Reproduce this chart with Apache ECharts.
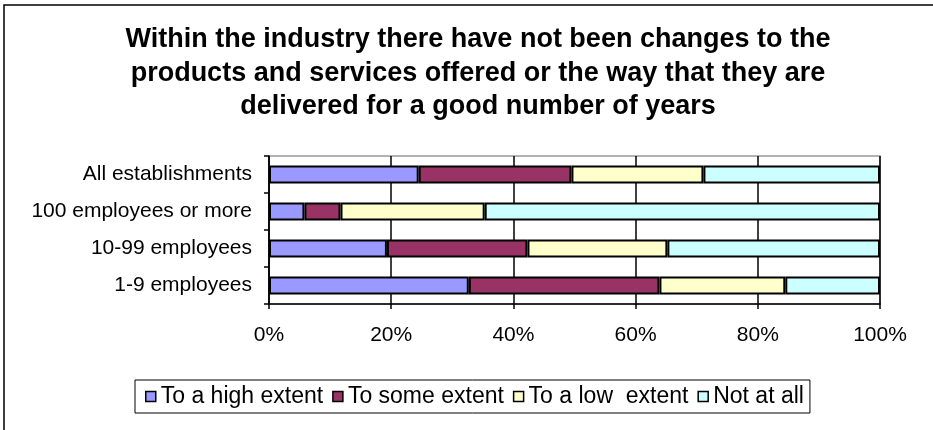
<!DOCTYPE html>
<html>
<head>
<meta charset="utf-8">
<script src="https://cdn.jsdelivr.net/npm/echarts@6/dist/echarts.min.js"></script>
<style>
  html, body { margin: 0; padding: 0; background: #fff; }
  #chart { width: 933px; height: 430px; }
</style>
</head>
<body>
<div id="chart"></div>
<script>
// Establishment size groups (bottom to top on the category axis)
const categories = ['1-9 employees', '10-99 employees', '100 employees or more', 'All establishments'];

// Share of responses (%) per group, same order as categories
const highExtent = [32.7, 19.3, 5.8, 24.5];
const someExtent = [31.2, 23.0, 5.9, 25.0];
const lowExtent  = [20.6, 22.9, 23.6, 21.6];
const notAtAll   = [15.5, 34.8, 64.7, 28.9];

const seriesNames = ['To a high extent', 'To some extent', 'To a low  extent', 'Not at all'];
const seriesColors = ['#9999FF', '#993366', '#FFFFCC', '#CCFFFF'];
const seriesValues = [highExtent, someExtent, lowExtent, notAtAll];

const FONT = '"Liberation Sans", Arial, sans-serif';

const chart = echarts.init(document.getElementById('chart'), null, { renderer: 'canvas' });

chart.setOption({
  backgroundColor: '#ffffff',
  animation: false,
  title: {
    text: 'Within the industry there have not been changes to the\nproducts and services offered or the way that they are\ndelivered for a good number of years',
    left: 473,
    textAlign: 'center',
    top: 18,
    textStyle: {
      fontFamily: FONT,
      fontWeight: 'bold',
      fontSize: 27,
      lineHeight: 33.5,
      color: '#000'
    }
  },
  graphic: [{
    type: 'rect',
    shape: { x: 4, y: 5, width: 1000, height: 1000 },
    style: { fill: 'none', stroke: '#000', lineWidth: 1.5 },
    silent: true
  }],
  legend: {
    data: seriesNames,
    left: 135,
    top: 380,
    orient: 'horizontal',
    icon: 'rect',
    itemWidth: 10,
    itemHeight: 10,
    itemGap: 9,
    padding: [5, 6, 5, 10],
    borderColor: '#000',
    borderWidth: 1,
    textStyle: { fontFamily: FONT, fontSize: 23, color: '#000' },
    itemStyle: { borderColor: '#000', borderWidth: 1.5 }
  },
  grid: {
    left: 269,
    right: 53,
    top: 156,
    bottom: 126,
    show: true,
    borderColor: '#999',
    borderWidth: 1.5,
    containLabel: false
  },
  xAxis: {
    type: 'value',
    min: 0,
    max: 100,
    interval: 20,
    axisLine: { show: true, lineStyle: { color: '#000', width: 1.5 } },
    axisTick: { show: true, length: 5, lineStyle: { color: '#000', width: 1.5 } },
    splitLine: { show: true, lineStyle: { color: '#000', width: 1.5 } },
    axisLabel: {
      formatter: '{value}%',
      fontFamily: FONT,
      fontSize: 21,
      color: '#000',
      margin: 21
    }
  },
  yAxis: {
    type: 'category',
    data: categories,
    axisLine: { show: true, lineStyle: { color: '#000', width: 1.5 } },
    axisTick: { show: true, length: 5, inside: false, lineStyle: { color: '#000', width: 1.5 } },
    splitLine: { show: false },
    axisLabel: {
      fontFamily: FONT,
      fontSize: 21,
      color: '#000',
      margin: 17
    }
  },
  series: seriesNames.map((name, i) => ({
    name: name,
    type: 'bar',
    stack: 'total',
    barWidth: 18,
    data: seriesValues[i],
    itemStyle: {
      color: seriesColors[i],
      borderColor: '#000',
      borderWidth: 2
    }
  }))
});
</script>
</body>
</html>
